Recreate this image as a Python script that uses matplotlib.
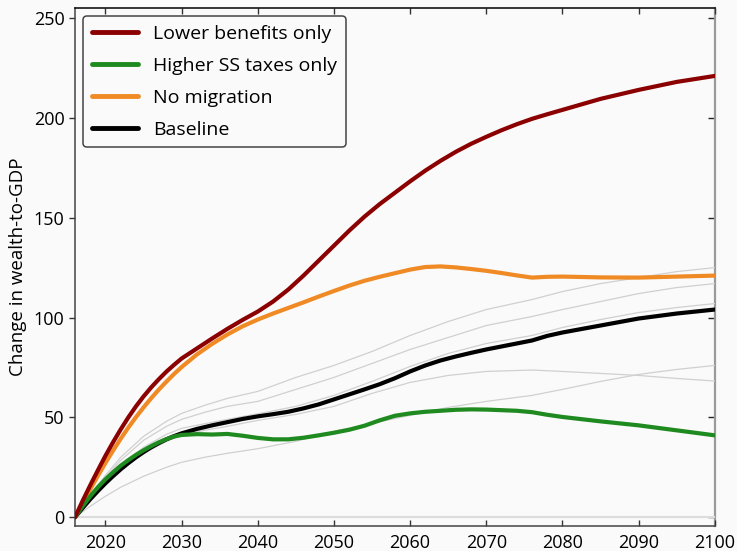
import matplotlib
matplotlib.use("Agg")
import matplotlib.pyplot as plt

plt.rcParams['font.family'] = ['Open Sans', 'DejaVu Sans']

# ---- data ----
years_main = [2016, 2017, 2018, 2019, 2020, 2021, 2022, 2023, 2024, 2025, 2026, 2027,
              2028, 2029, 2030, 2032, 2034, 2036, 2038, 2040, 2042, 2044, 2046, 2048,
              2050, 2052, 2054, 2056, 2058, 2060, 2062, 2064, 2066, 2068, 2070, 2072,
              2074, 2076, 2078, 2080, 2085, 2090, 2095, 2100]

lower_benefits = [0, 8.2, 16, 23.5, 30.8, 37.6, 44, 50, 55.5, 60.5, 65, 69.1,
                  72.9, 76.3, 79.5, 84.5, 89.5, 94.3, 98.8, 103, 108, 114, 121, 128.5,
                  136, 143.5, 150.5, 156.8, 162.5, 168.2, 173.6, 178.5, 183, 187, 190.5, 193.8,
                  196.8, 199.5, 201.8, 204, 209.5, 214, 218, 221]

higher_taxes = [0, 5.5, 10.5, 15, 19, 22.5, 25.8, 28.6, 31.2, 33.5, 35.6, 37.5,
                39.1, 40.4, 41.2, 41.6, 41.4, 41.7, 40.8, 39.7, 39, 39, 39.8, 41,
                42.3, 43.8, 45.8, 48.5, 50.8, 52, 52.8, 53.3, 53.8, 54, 53.9, 53.6,
                53.3, 52.6, 51.3, 50.2, 48, 46, 43.5, 41]

no_migration = [0, 7, 14, 20.7, 27.2, 33.4, 39.3, 44.9, 50.1, 55, 59.6, 63.9,
                67.9, 71.7, 75.2, 81.5, 86.8, 91.5, 95.6, 99, 102, 104.8, 107.6, 110.5,
                113.3, 116, 118.4, 120.4, 122.2, 124, 125.3, 125.6, 125.1, 124.3, 123.4, 122.3,
                121.1, 120, 120.4, 120.5, 120.1, 120, 120.5, 121]

baseline = [0, 4.6, 9, 13.1, 17, 20.6, 24, 27.1, 30, 32.6, 35, 37.1,
            39, 40.6, 42, 44.2, 46, 47.6, 49.2, 50.5, 51.6, 52.8, 54.5, 56.5,
            59, 61.5, 64, 66.6, 69.6, 73, 76, 78.5, 80.5, 82.3, 84, 85.5,
            87, 88.5, 90.8, 92.5, 96, 99.5, 102, 104]

years_alt = [2016, 2018, 2020, 2022, 2025, 2028, 2030, 2033, 2036, 2040, 2045, 2050,
             2055, 2060, 2065, 2070, 2076, 2080, 2085, 2090, 2095, 2100]
alt_run_1 = [0, 11, 21, 30, 40.5, 48, 52, 56, 59.5, 63, 70, 76, 83, 91, 98, 104, 109, 113, 117, 120, 123, 125]
alt_run_2 = [0, 10.5, 20, 28.5, 38.5, 45.5, 49, 52.5, 55.5, 58, 64, 70, 77, 84, 90, 96, 100.5, 104, 108, 112, 115, 117]
alt_run_3 = [0, 9.5, 18.5, 26, 35, 41.5, 44.5, 46.8, 49, 51.8, 55.5, 61, 68, 75.5, 82, 87, 91, 95, 99, 102.5, 105, 107]
alt_run_4 = [0, 8.5, 16.5, 23.5, 32, 38, 41, 43.5, 45.5, 48.5, 51.5, 55.5, 62, 67.5, 71, 73, 73.7, 73, 72, 71, 69.5, 68.2]
alt_run_5 = [0, 5.5, 10.5, 15, 20.5, 25, 27.5, 30, 32, 34.3, 38, 43, 47, 51, 55, 58, 61, 64, 68, 71.5, 74, 76]
alt_runs = [alt_run_1, alt_run_2, alt_run_3, alt_run_4, alt_run_5]

labels = ["Lower benefits only", "Higher SS taxes only", "No migration", "Baseline"]
colors = ["#8b0000", "#1f8a1f", "#f08a24", "#000000"]
yticks = [0, 50, 100, 150, 200, 250]
xticks = [2020, 2030, 2040, 2050, 2060, 2070, 2080, 2090, 2100]

# ---- figure ----
bg = "#fafafa"
fig = plt.figure(figsize=(7.37, 5.51), dpi=100, facecolor=bg)
ax = fig.add_axes([0.1018, 0.0454, 0.868, 0.940], facecolor=bg)

ax.axhline(0, color="#dcdcdc", lw=1.5, zorder=1)
for run in alt_runs:
    ax.plot(years_alt, run, color="#d0d0d0", lw=0.9, zorder=2)

series = [lower_benefits, higher_taxes, no_migration, baseline]
zs = [6, 5, 4, 3]
for vals, lab, c, z in zip(series, labels, colors, zs):
    ax.plot(years_main, vals, color=c, lw=3.0, label=lab, zorder=z,
            solid_capstyle="round", solid_joinstyle="round")

ax.set_xlim(2016, 2100)
ax.set_ylim(-4.4, 255)
ax.set_xticks(xticks)
ax.set_yticks(yticks)
ax.tick_params(axis="x", direction="in", top=True, length=4, width=1,
               labelsize=13, pad=6, color="#333333")
ax.tick_params(axis="y", direction="out", left=True, right=False, length=4,
               width=1, labelsize=13, color="#333333")
sec = ax.secondary_yaxis("right")
sec.set_yticks(yticks)
sec.tick_params(direction="in", length=5, width=1, labelright=False, color="#222222")
sec.spines["right"].set_color("#9a9a9a")
sec.spines["right"].set_linewidth(1.6)

ax.spines["top"].set_color("#000000")
ax.spines["right"].set_visible(False)
ax.spines["left"].set_color("#444444")
ax.spines["bottom"].set_color("#444444")
for s in ["top", "left", "bottom"]:
    ax.spines[s].set_linewidth(1.1)

ax.set_ylabel("Change in wealth-to-GDP", fontsize=13.5, labelpad=5)

leg = ax.legend(loc="upper left", fontsize=14, frameon=True, fancybox=True,
                handlelength=2.4, handletextpad=0.75, labelspacing=0.72,
                borderpad=0.45, borderaxespad=0.4, facecolor=bg,
                edgecolor="#444444", framealpha=1)
leg.get_frame().set_linewidth(1.1)
for line in leg.get_lines():
    line.set_linewidth(3.5)

fig.savefig("out.png", dpi=100, facecolor=bg)
